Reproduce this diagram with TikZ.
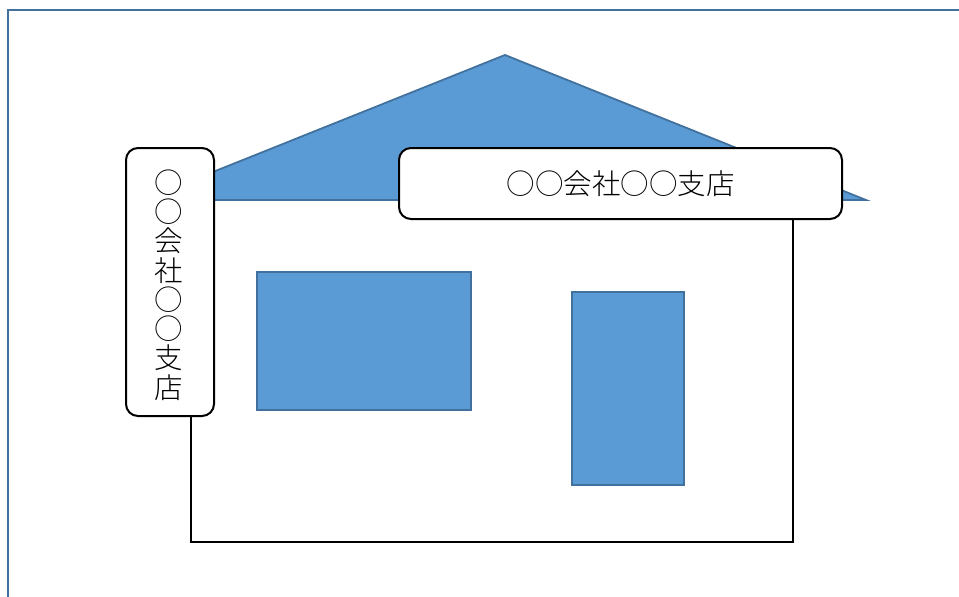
\documentclass[tikz,border=0pt]{standalone}
\usepackage{fontspec}
\newfontfamily\jp{Noto Sans CJK JP Light}
\definecolor{fillblue}{HTML}{5B9BD5}
\definecolor{edgeblue}{HTML}{41719C}
\begin{document}
\begin{tikzpicture}[x=1pt,y=-1pt,
  bluebox/.style={fill=fillblue,draw=edgeblue,line width=1.8pt},
  signbox/.style={draw=black,line width=2pt,fill=white,rounded corners=12pt,inner sep=0pt,
    font=\jp\fontsize{28.5}{29.3}\selectfont}]
\useasboundingbox (0,0) rectangle (959,597);
% outer frame
\draw[edgeblue,line width=2pt] (8,605) -- (8,10) -- (965,10);
% house body
\draw[black,line width=2pt,fill=white] (191,200) rectangle (793,542);
% roof
\draw[bluebox] (143,200) -- (505,55) -- (866,200) -- cycle;
% window and door
\draw[bluebox] (257,272) rectangle (471,410);
\draw[bluebox] (572,292) rectangle (684,485);
% signs
\node[signbox, minimum width=443pt, minimum height=71pt] (hsign) at (620.5,183.5) {○○会社○○支店};
\node[signbox, minimum width=88pt, minimum height=268pt] (vsign) at (170,282) {};
\node[font=\jp\fontsize{28.5}{29.3}\selectfont, align=center, inner sep=0pt] (vtext) at (169,285) {○\\○\\会\\社\\○\\○\\支\\店};
\end{tikzpicture}
\end{document}
